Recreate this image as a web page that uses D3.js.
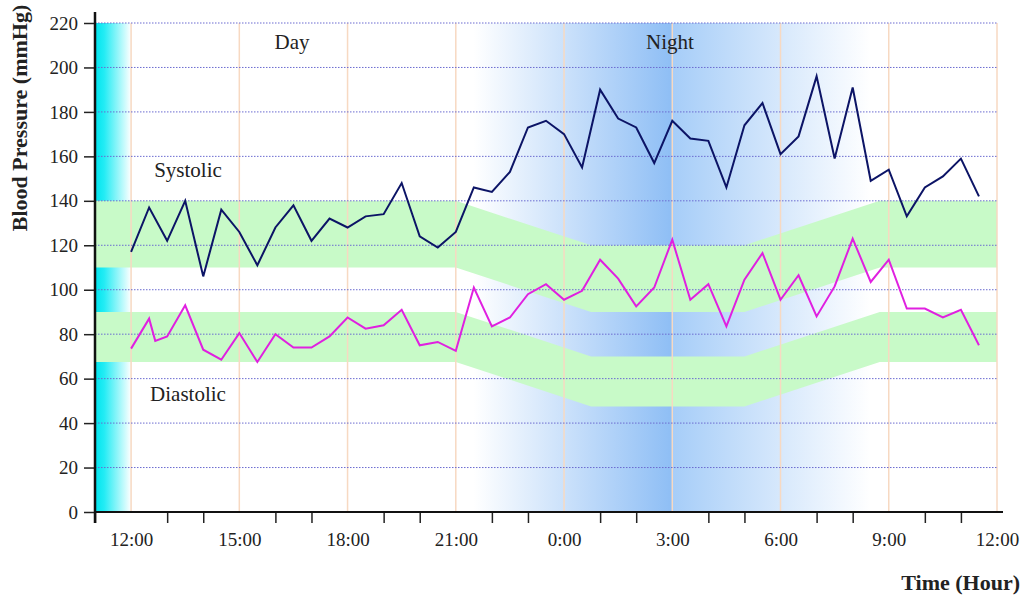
<!DOCTYPE html>
<html>
<head>
<meta charset="utf-8">
<script src="https://cdn.jsdelivr.net/npm/d3@7"></script>
<style>
  html, body { margin: 0; padding: 0; background: #fff; }
  svg { display: block; font-family: "Liberation Serif", "Times New Roman", serif; }
</style>
</head>
<body>
<svg id="chart" width="1024" height="598"></svg>
<script>
// hours counted from midnight of day one, so 24 = 0:00 next day
const times = [12, 12.5, 13, 13.5, 14, 14.5, 15, 15.5, 16, 16.5, 17, 17.5,
  18, 18.5, 19, 19.5, 20, 20.5, 21, 21.5, 22, 22.5, 23, 23.5,
  24, 24.5, 25, 25.5, 26, 26.5, 27, 27.5, 28, 28.5, 29, 29.5,
  30, 30.5, 31, 31.5, 32, 32.5, 33, 33.5, 34, 34.5, 35, 35.5];
const systolic = [117, 137, 122, 140, 106, 136, 126, 111, 128, 138, 122, 132,
  128, 133, 134, 148, 124, 119, 126, 146, 144, 153, 173, 176,
  170, 155, 190, 177, 173, 157, 176, 168, 167, 146, 174, 184,
  161, 169, 196, 159, 191, 149, 154, 133, 146, 151, 159, 142];

// diastolic has one extra reading at 12:40
const diaTimes = [12, 12.5, 12.67, 13, 13.5, 14, 14.5, 15, 15.5, 16, 16.5, 17, 17.5,
  18, 18.5, 19, 19.5, 20, 20.5, 21, 21.5, 22, 22.5, 23, 23.5,
  24, 24.5, 25, 25.5, 26, 26.5, 27, 27.5, 28, 28.5, 29, 29.5,
  30, 30.5, 31, 31.5, 32, 32.5, 33, 33.5, 34, 34.5, 35, 35.5];
const diastolic = [73.5, 87, 77, 79, 93, 73, 68.5, 80.5, 67.5, 80, 74, 74, 79,
  87.5, 82.5, 84, 91, 75, 76.5, 72.5, 101, 83.5, 87.5, 98, 102.5,
  95.5, 99.5, 113.5, 105, 92.5, 101, 122.5, 95.5, 102.5, 83.5, 104.5, 116.5,
  95.5, 106.5, 88, 101.5, 123, 103.5, 113.5, 91.5, 91.5, 87.5, 91, 75];

// normal ranges, day -> night -> day
const bandTimes = [11, 21, 24.75, 29, 32.75, 36];
const sysBandLow  = [110, 110, 90, 90, 110, 110];
const sysBandHigh = [140, 140, 120, 120, 140, 140];
const diaBandLow  = [67.5, 67.5, 47.5, 47.5, 67.5, 67.5];
const diaBandHigh = [90, 90, 70, 70, 90, 90];

const yTicks = [0, 20, 40, 60, 80, 100, 120, 140, 160, 180, 200, 220];
const majorHours = [12, 15, 18, 21, 24, 27, 30, 33, 36];
const minorHours = [11, 13, 14, 16, 17, 19, 20, 22, 23, 25, 26, 28, 29, 31, 32, 34, 35];
const nightSpan = [21.5, 27, 32.5];

const serif = "Liberation Serif, Times New Roman, serif";

const svg = d3.select("#chart");
const x = d3.scaleLinear().domain([11, 36]).range([95, 997]);
const y = d3.scaleLinear().domain([0, 220]).range([512, 23]);

const defs = svg.append("defs");

const cyan = defs.append("linearGradient").attr("id", "cyan")
  .attr("gradientUnits", "userSpaceOnUse")
  .attr("x1", x(11)).attr("x2", x(12)).attr("y1", 0).attr("y2", 0);
cyan.append("stop").attr("offset", 0).attr("stop-color", "#00e4ee");
cyan.append("stop").attr("offset", 0.25).attr("stop-color", "#22ecf4");
cyan.append("stop").attr("offset", 1).attr("stop-color", "#ffffff");

const night = defs.append("linearGradient").attr("id", "night")
  .attr("gradientUnits", "userSpaceOnUse")
  .attr("x1", x(nightSpan[0])).attr("x2", x(nightSpan[2])).attr("y1", 0).attr("y2", 0);
night.append("stop").attr("offset", 0).attr("stop-color", "#ffffff");
night.append("stop").attr("offset", 0.5).attr("stop-color", "#8ebef5");
night.append("stop").attr("offset", 0.5).attr("stop-color", "#a6cdf8");
night.append("stop").attr("offset", 1).attr("stop-color", "#ffffff");

// background strips
svg.append("rect")
  .attr("x", x(11)).attr("y", y(220))
  .attr("width", x(12) - x(11)).attr("height", y(0) - y(220))
  .attr("fill", "url(#cyan)");

svg.append("rect")
  .attr("x", x(nightSpan[0])).attr("y", y(220))
  .attr("width", x(nightSpan[2]) - x(nightSpan[0])).attr("height", y(0) - y(220))
  .attr("fill", "url(#night)");

// normal range bands
const band = (lo, hi) => d3.area()
  .x((d, i) => x(bandTimes[i]))
  .y0((d, i) => y(lo[i]))
  .y1((d, i) => y(hi[i]))(bandTimes);

svg.append("path").attr("d", band(sysBandLow, sysBandHigh)).attr("fill", "#c8fac8");
svg.append("path").attr("d", band(diaBandLow, diaBandHigh)).attr("fill", "#c8fac8");

// vertical 3-hour lines
svg.append("g").selectAll("line")
  .data(majorHours)
  .join("line")
    .attr("x1", d => x(d)).attr("x2", d => x(d))
    .attr("y1", y(220)).attr("y2", y(0))
    .attr("stroke", "#f7d9c2")
    .attr("stroke-width", 1.5);

// horizontal dotted grid
svg.append("g").selectAll("line")
  .data(yTicks.filter(d => d > 0))
  .join("line")
    .attr("x1", x(11)).attr("x2", x(36))
    .attr("y1", d => y(d)).attr("y2", d => y(d))
    .attr("stroke", "#6b6bd0")
    .attr("stroke-width", 1)
    .attr("stroke-dasharray", "1.5,1.5");

// data lines
const sysLine = d3.line().x((d, i) => x(times[i])).y(d => y(d));
const diaLine = d3.line().x((d, i) => x(diaTimes[i])).y(d => y(d));

svg.append("path")
  .attr("d", sysLine(systolic))
  .attr("fill", "none")
  .attr("stroke", "#0c1466")
  .attr("stroke-width", 2)
  .attr("stroke-linejoin", "miter");

svg.append("path")
  .attr("d", diaLine(diastolic))
  .attr("fill", "none")
  .attr("stroke", "#e020e0")
  .attr("stroke-width", 2)
  .attr("stroke-linejoin", "miter");

// axes
const yAxis = svg.append("g")
  .attr("transform", "translate(" + x(11) + ",0)")
  .call(d3.axisLeft(y).tickValues(yTicks).tickSize(11).tickSizeOuter(0).tickPadding(6))
  .attr("font-family", serif)
  .attr("font-size", 19);
yAxis.select(".domain").remove();
yAxis.selectAll(".tick line").attr("stroke", "#222").attr("stroke-width", 1.5);
yAxis.selectAll(".tick text").attr("fill", "#222");

const xMinor = svg.append("g")
  .attr("transform", "translate(0," + y(0) + ")")
  .call(d3.axisBottom(x).tickValues(minorHours).tickSize(11).tickFormat(""));
xMinor.select(".domain").remove();
xMinor.selectAll(".tick line").attr("stroke", "#222").attr("stroke-width", 1.5);

const xLabels = svg.append("g")
  .attr("transform", "translate(0," + y(0) + ")")
  .call(d3.axisBottom(x).tickValues(majorHours).tickSize(0).tickPadding(21)
    .tickFormat(h => (h % 24) + ":00"))
  .attr("font-family", serif)
  .attr("font-size", 19);
xLabels.select(".domain").remove();
xLabels.selectAll(".tick text").attr("fill", "#222");

svg.append("line")
  .attr("x1", x(11)).attr("x2", x(36) + 6)
  .attr("y1", y(0)).attr("y2", y(0))
  .attr("stroke", "#111").attr("stroke-width", 2);

svg.append("line")
  .attr("x1", x(11)).attr("x2", x(11))
  .attr("y1", 12).attr("y2", y(0) + 11)
  .attr("stroke", "#111").attr("stroke-width", 2.5);

// labels
const label = (txt, px, py, opts = {}) => svg.append("text")
  .attr("x", px).attr("y", py)
  .attr("text-anchor", opts.anchor || "middle")
  .attr("fill", "#222")
  .style("font-size", (opts.size || 21) + "px")
  .style("font-weight", opts.bold ? "bold" : "normal")
  .text(txt);

label("Day", 292, 49);
label("Night", 670, 49);
label("Systolic", 188, 177);
label("Diastolic", 188, 401);
label("Time (Hour)", 1020, 590, { anchor: "end", bold: true, size: 22 });

svg.append("text")
  .attr("transform", "translate(27,118) rotate(-90)")
  .attr("text-anchor", "middle")
  .attr("fill", "#222")
  .style("font-size", "22px")
  .style("font-weight", "bold")
  .text("Blood Pressure (mmHg)");
</script>
</body>
</html>
